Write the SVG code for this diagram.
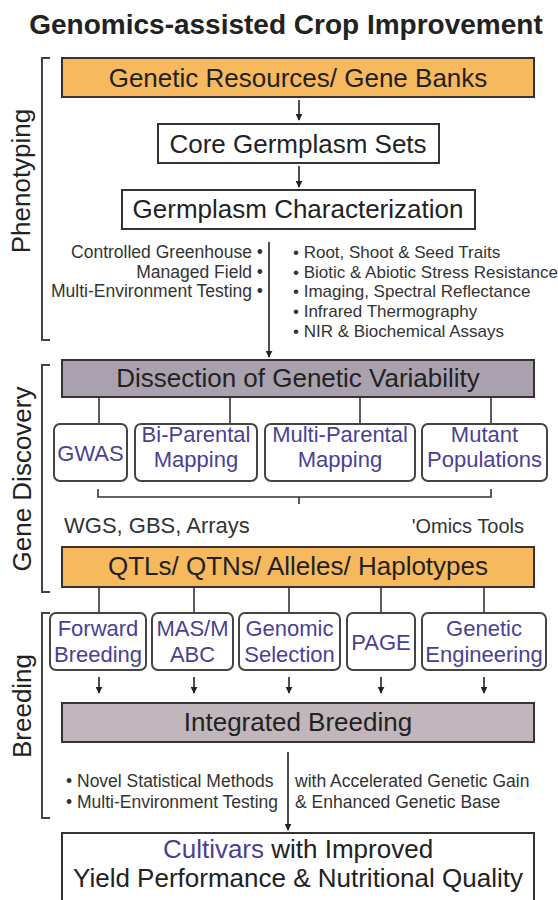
<svg xmlns="http://www.w3.org/2000/svg" width="558" height="900" viewBox="0 0 558 900">
<defs>
<marker id="ah" viewBox="0 0 10 10" refX="9" refY="5" markerWidth="7" markerHeight="7" markerUnits="userSpaceOnUse" orient="auto">
<path d="M0,0 L10,5 L0,10 z" fill="#222"/>
</marker>
<style>
text{font-family:"Liberation Sans",Arial,sans-serif;}
.title{font-size:28px;font-weight:bold;fill:#222;text-anchor:middle;}
.big{font-size:26px;fill:#222;text-anchor:middle;}
.side{font-size:26px;fill:#222;text-anchor:middle;}
.lbl{font-size:22px;fill:#4b3f94;text-anchor:middle;}
.sm{font-size:17.5px;fill:#333;}
.smr{font-size:17px;fill:#333;}
.mid{font-size:22px;fill:#333;}
.orange{fill:#f6b95e;stroke:#3a3030;stroke-width:2;}
.gray{fill:#a9a1ae;stroke:#3a3030;stroke-width:2;}
.mauve{fill:#c1b6bc;stroke:#3a3030;stroke-width:2;}
.plain{fill:#fff;stroke:#333;stroke-width:2;}
.rbox{fill:#fff;stroke:#444;stroke-width:2;}
.ln{stroke:#333;stroke-width:1.6;fill:none;}
.arr{stroke:#222;stroke-width:1.6;fill:none;marker-end:url(#ah);}
.brk{stroke:#444;stroke-width:2;fill:none;}
</style>
</defs>
<rect width="558" height="900" fill="#fff"/>
<text class="title" x="286" y="34">Genomics-assisted Crop Improvement</text>

<g id="brackets">
<path class="brk" d="M50,58 H42 V340 H50"/>
<path class="brk" d="M50,365 H42 V592 H50"/>
<path class="brk" d="M50,613 H42 V818 H50"/>
<text class="side" transform="translate(30,181) rotate(-90)">Phenotyping</text>
<text class="side" transform="translate(31,479) rotate(-90)">Gene Discovery</text>
<text class="side" transform="translate(31,706) rotate(-90)">Breeding</text>
</g>

<g id="connectors">
<line class="arr" x1="299" y1="100" x2="299" y2="120"/>
<line class="arr" x1="299" y1="166" x2="299" y2="187"/>
<line class="arr" x1="269" y1="242" x2="269" y2="357"/>
<line class="ln" x1="99" y1="397" x2="99" y2="424"/>
<line class="ln" x1="230" y1="397" x2="230" y2="424"/>
<line class="ln" x1="360" y1="397" x2="360" y2="424"/>
<line class="ln" x1="491" y1="397" x2="491" y2="424"/>
<path class="ln" d="M98,489 V497 H491 V489 M299,497 V504"/>
<line class="ln" x1="99" y1="587" x2="99" y2="613"/>
<line class="ln" x1="194" y1="587" x2="194" y2="613"/>
<line class="ln" x1="289" y1="587" x2="289" y2="613"/>
<line class="ln" x1="381" y1="587" x2="381" y2="613"/>
<line class="ln" x1="484" y1="587" x2="484" y2="613"/>
<line class="arr" x1="99" y1="677" x2="99" y2="693"/>
<line class="arr" x1="194" y1="677" x2="194" y2="693"/>
<line class="arr" x1="289" y1="677" x2="289" y2="693"/>
<line class="arr" x1="381" y1="677" x2="381" y2="693"/>
<line class="arr" x1="484" y1="677" x2="484" y2="693"/>
<line class="arr" x1="288" y1="752" x2="288" y2="830"/>
</g>

<g id="genetic-resources">
<rect class="orange" x="62" y="58" width="472" height="39"/>
<text class="big" x="298" y="87">Genetic Resources/ Gene Banks</text>
</g>
<g id="core-germplasm">
<rect class="plain" x="158" y="124" width="281" height="39"/>
<text class="big" x="298" y="153">Core Germplasm Sets</text>
</g>
<g id="germplasm-characterization">
<rect class="plain" x="122" y="190" width="353" height="39"/>
<text class="big" x="298" y="218">Germplasm Characterization</text>
</g>
<g id="phenotyping-lists">
<text class="sm" x="263" y="258" text-anchor="end">Controlled Greenhouse •</text>
<text class="sm" x="263" y="278" text-anchor="end">Managed Field •</text>
<text class="sm" x="263" y="297" text-anchor="end">Multi-Environment Testing •</text>
<text class="smr" x="293" y="258">• Root, Shoot &amp; Seed Traits</text>
<text class="smr" x="293" y="278">• Biotic &amp; Abiotic Stress Resistance</text>
<text class="smr" x="293" y="297">• Imaging, Spectral Reflectance</text>
<text class="smr" x="293" y="317">• Infrared Thermography</text>
<text class="smr" x="293" y="337">• NIR &amp; Biochemical Assays</text>
</g>

<g id="dissection">
<rect class="gray" x="62" y="360" width="472" height="37"/>
<text class="big" x="298" y="387">Dissection of Genetic Variability</text>
</g>
<g id="gwas">
<rect class="rbox" x="54" y="424" width="73" height="57" rx="6"/>
<text class="lbl" x="90.5" y="461">GWAS</text>
</g>
<g id="bi-parental">
<rect class="rbox" x="135" y="424" width="122" height="57" rx="6"/>
<text class="lbl" x="196" y="442">Bi-Parental</text>
<text class="lbl" x="196" y="467">Mapping</text>
</g>
<g id="multi-parental">
<rect class="rbox" x="265" y="424" width="150" height="57" rx="6"/>
<text class="lbl" x="340" y="442">Multi-Parental</text>
<text class="lbl" x="340" y="467">Mapping</text>
</g>
<g id="mutant">
<rect class="rbox" x="422" y="424" width="125" height="57" rx="6"/>
<text class="lbl" x="484.5" y="442">Mutant</text>
<text class="lbl" x="484.5" y="467">Populations</text>
</g>
<g id="tools">
<text class="mid" x="64" y="533">WGS, GBS, Arrays</text>
<text class="mid" x="524" y="533" text-anchor="end" style="font-size:20px">'Omics Tools</text>
</g>
<g id="qtls">
<rect class="orange" x="62" y="547" width="472" height="40"/>
<text class="big" x="298" y="575">QTLs/ QTNs/ Alleles/ Haplotypes</text>
</g>

<g id="forward">
<rect class="rbox" x="50" y="613" width="96" height="57" rx="6"/>
<text class="lbl" x="98" y="636">Forward</text>
<text class="lbl" x="98" y="662">Breeding</text>
</g>
<g id="mas">
<rect class="rbox" x="152" y="613" width="81" height="57" rx="6"/>
<text class="lbl" x="192.5" y="636">MAS/M</text>
<text class="lbl" x="192.5" y="662">ABC</text>
</g>
<g id="genomic-selection">
<rect class="rbox" x="239" y="613" width="101" height="57" rx="6"/>
<text class="lbl" x="289.5" y="636">Genomic</text>
<text class="lbl" x="289.5" y="662">Selection</text>
</g>
<g id="page">
<rect class="rbox" x="347" y="613" width="68" height="57" rx="6"/>
<text class="lbl" x="381" y="650">PAGE</text>
</g>
<g id="genetic-engineering">
<rect class="rbox" x="422" y="613" width="124" height="57" rx="6"/>
<text class="lbl" x="484" y="636">Genetic</text>
<text class="lbl" x="484" y="662">Engineering</text>
</g>

<g id="integrated">
<rect class="mauve" x="62" y="703" width="472" height="39"/>
<text class="big" x="298" y="731">Integrated Breeding</text>
</g>
<g id="breeding-lists">
<text class="sm" x="66" y="787">• Novel Statistical Methods</text>
<text class="sm" x="66" y="808">• Multi-Environment Testing</text>
<text class="sm" x="295" y="787">with Accelerated Genetic Gain</text>
<text class="sm" x="295" y="808">&amp; Enhanced Genetic Base</text>
</g>
<g id="cultivars">
<rect class="plain" x="62" y="833" width="472" height="80"/>
<text class="big" x="298" y="858"><tspan fill="#4b3f94">Cultivars</tspan> with Improved</text>
<text class="big" x="298" y="887">Yield Performance &amp; Nutritional Quality</text>
</g>
</svg>
